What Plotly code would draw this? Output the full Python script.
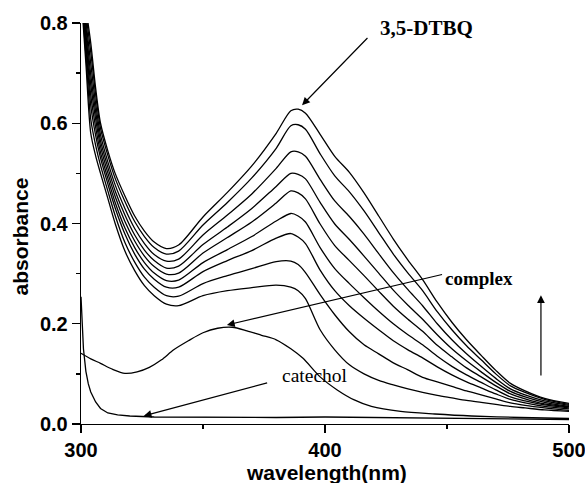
import plotly.graph_objects as go

# wavelength grid (nm) for the 3,5-DTBQ growth series
wl = [300, 302, 304, 306, 308, 311, 314, 318, 322, 326, 330, 335, 340, 350, 360, 370, 380, 386, 389, 392,
      398, 404, 410, 416, 422, 428, 434, 440, 446, 452, 458, 464, 470, 476, 482, 490, 500]

scan1 = [0.90, 0.83, 0.76, 0.67, 0.60, 0.545, 0.50, 0.455, 0.415, 0.385, 0.363, 0.350, 0.357, 0.413, 0.462, 0.515, 0.580, 0.625, 0.628, 0.620,
         0.578, 0.534, 0.502, 0.461, 0.415, 0.369, 0.327, 0.288, 0.243, 0.203, 0.168, 0.137, 0.107, 0.081, 0.066, 0.051, 0.041]
scan2 = [0.896, 0.819, 0.742, 0.657, 0.590, 0.536, 0.490, 0.444, 0.404, 0.374, 0.352, 0.339, 0.345, 0.397, 0.442, 0.491, 0.550, 0.595, 0.597, 0.588,
         0.539, 0.495, 0.463, 0.425, 0.382, 0.339, 0.301, 0.266, 0.224, 0.188, 0.156, 0.128, 0.100, 0.076, 0.063, 0.049, 0.039]
scan3 = [0.891, 0.805, 0.719, 0.639, 0.577, 0.523, 0.477, 0.430, 0.390, 0.360, 0.338, 0.325, 0.329, 0.377, 0.417, 0.459, 0.510, 0.543, 0.543, 0.534,
         0.488, 0.445, 0.414, 0.379, 0.340, 0.302, 0.268, 0.236, 0.200, 0.168, 0.140, 0.115, 0.091, 0.070, 0.058, 0.046, 0.037]
scan4 = [0.886, 0.792, 0.697, 0.623, 0.565, 0.512, 0.465, 0.417, 0.377, 0.347, 0.326, 0.311, 0.315, 0.358, 0.393, 0.430, 0.474, 0.500, 0.498, 0.489,
         0.442, 0.399, 0.368, 0.335, 0.301, 0.267, 0.237, 0.209, 0.178, 0.150, 0.126, 0.104, 0.083, 0.065, 0.054, 0.043, 0.035]
scan5 = [0.882, 0.779, 0.677, 0.608, 0.554, 0.501, 0.454, 0.404, 0.365, 0.335, 0.314, 0.299, 0.301, 0.341, 0.372, 0.403, 0.441, 0.465, 0.461, 0.449,
         0.399, 0.356, 0.326, 0.296, 0.265, 0.235, 0.209, 0.185, 0.157, 0.134, 0.112, 0.094, 0.076, 0.060, 0.050, 0.040, 0.034]
scan6 = [0.877, 0.766, 0.656, 0.592, 0.542, 0.490, 0.442, 0.391, 0.352, 0.322, 0.301, 0.286, 0.287, 0.322, 0.348, 0.374, 0.405, 0.420, 0.415, 0.403,
         0.352, 0.310, 0.280, 0.252, 0.225, 0.200, 0.178, 0.158, 0.135, 0.115, 0.098, 0.083, 0.068, 0.054, 0.046, 0.038, 0.032]
scan7 = [0.872, 0.754, 0.635, 0.576, 0.531, 0.479, 0.431, 0.379, 0.339, 0.309, 0.289, 0.273, 0.273, 0.304, 0.326, 0.346, 0.371, 0.380, 0.373, 0.360,
         0.307, 0.266, 0.236, 0.211, 0.188, 0.166, 0.148, 0.132, 0.114, 0.098, 0.084, 0.072, 0.060, 0.049, 0.042, 0.035, 0.030]
scan8 = [0.866, 0.737, 0.608, 0.556, 0.516, 0.465, 0.416, 0.362, 0.323, 0.293, 0.273, 0.256, 0.255, 0.280, 0.296, 0.310, 0.324, 0.325, 0.318, 0.302,
         0.258, 0.218, 0.184, 0.158, 0.140, 0.122, 0.108, 0.093, 0.084, 0.075, 0.066, 0.058, 0.050, 0.042, 0.037, 0.032, 0.027]
scan9 = [0.86, 0.72, 0.58, 0.535, 0.50, 0.45, 0.40, 0.345, 0.306, 0.276, 0.256, 0.239, 0.236, 0.256, 0.266, 0.272, 0.277, 0.273, 0.266, 0.250,
         0.188, 0.148, 0.118, 0.100, 0.087, 0.078, 0.070, 0.063, 0.057, 0.052, 0.047, 0.043, 0.039, 0.035, 0.032, 0.028, 0.025]

# complex spectrum
wl_complex = [300, 304, 308, 313, 318, 323, 328, 333, 338, 344, 350, 356, 362, 368, 374, 380, 386, 391, 398,
              405, 412, 419, 431, 445, 460, 480, 500]
complex_abs = [0.141, 0.130, 0.121, 0.109, 0.101, 0.104, 0.113, 0.128, 0.148, 0.166, 0.182, 0.191, 0.193, 0.186, 0.177,
               0.168, 0.150, 0.131, 0.094, 0.068, 0.048, 0.035, 0.025, 0.020, 0.016, 0.013, 0.011]

# catechol spectrum
wl_catechol = [300, 301, 302, 303, 304, 306, 308, 311, 315, 320, 330, 350, 380, 400, 420, 450, 480, 500]
catechol_abs = [0.254, 0.15, 0.105, 0.08, 0.064, 0.044, 0.031, 0.022, 0.018, 0.016, 0.014, 0.013, 0.013, 0.014,
                0.013, 0.012, 0.010, 0.009]

x_ticks = [300, 400, 500]
y_ticks = [0.0, 0.2, 0.4, 0.6, 0.8]
y_tick_labels = ["0.0", "0.2", "0.4", "0.6", "0.8"]

LW = 1.3
fig = go.Figure()
for s in [scan1, scan2, scan3, scan4, scan5, scan6, scan7, scan8, scan9]:
    fig.add_trace(go.Scatter(x=wl, y=s, mode="lines", line=dict(color="black", width=LW, shape="spline", smoothing=0.8),
                             showlegend=False, hoverinfo="skip"))
fig.add_trace(go.Scatter(x=wl_complex, y=complex_abs, mode="lines",
                         line=dict(color="black", width=LW, shape="spline", smoothing=0.8),
                         showlegend=False, hoverinfo="skip"))
fig.add_trace(go.Scatter(x=wl_catechol, y=catechol_abs, mode="lines",
                         line=dict(color="black", width=LW),
                         showlegend=False, hoverinfo="skip"))

serif = "Liberation Serif"
sans = "Liberation Sans"

def arrow(x, y, ax, ay):
    fig.add_annotation(x=x, y=y, ax=ax, ay=ay, xref="x", yref="y", axref="x", ayref="y",
                       text="", showarrow=True, arrowhead=2, arrowsize=1.3, arrowwidth=1.2,
                       arrowcolor="black", standoff=0, startstandoff=0)

arrow(390.6, 0.636, 418.0, 0.773)
arrow(359.8, 0.1975, 448.6, 0.299)
arrow(325.7, 0.016, 376.9, 0.083)
arrow(488.5, 0.257, 488.5, 0.094)

PL, PT, PW, PH = 81, 23, 488, 401   # plot-area left/top (px), width, height


def px2paper(px, py):
    return (px - PL) / PW, 1 - (py - PT) / PH


def text_at(px, py, text, family, size, weight="normal", xanchor="center", angle=0):
    x, y = px2paper(px, py)
    fig.add_annotation(x=x, y=y, xref="paper", yref="paper", text=text, showarrow=False,
                       xanchor=xanchor, yanchor="middle", textangle=angle,
                       font=dict(family=family, size=size, color="black", weight=weight))


text_at(426, 28, "3,5-DTBQ", serif, 21, "bold")
text_at(443, 278, "complex", serif, 19, "bold", xanchor="left")
text_at(280, 375, "catechol", serif, 19.5, xanchor="left")
text_at(326, 472, "wavelength(nm)", sans, 21, "bold")
text_at(20.5, 237, "absorbance", sans, 21, "bold", angle=-90)

fig.update_xaxes(range=[300, 500], tickvals=x_ticks, ticktext=[str(v) for v in x_ticks],
                 showline=True, linecolor="black", linewidth=LW, ticks="outside", ticklen=8,
                 tickwidth=LW, tickcolor="black", showgrid=False, zeroline=False,
                 ticklabeloverflow="allow", automargin=False,
                 tickfont=dict(family=sans, size=20, color="black", weight="bold"),
                 minor=dict(tickvals=[350, 450], ticks="outside", ticklen=4, tickwidth=LW, tickcolor="black"))
fig.update_yaxes(range=[0, 0.8], tickvals=y_ticks, ticktext=y_tick_labels,
                 showline=True, linecolor="black", linewidth=LW, ticks="outside", ticklen=8,
                 tickwidth=LW, tickcolor="black", showgrid=False, zeroline=False,
                 ticklabeloverflow="allow", automargin=False,
                 tickfont=dict(family=sans, size=20, color="black", weight="bold"),
                 minor=dict(tickvals=[0.1, 0.3, 0.5, 0.7], ticks="outside", ticklen=4, tickwidth=LW, tickcolor="black"))

W, H = 585, 483
fig.update_layout(width=W, height=H,
                  margin=dict(l=PL, r=W - PL - PW, t=PT, b=H - PT - PH, autoexpand=False),
                  plot_bgcolor="white", paper_bgcolor="white", hovermode=False)

fig.write_html("out.html", config={"displayModeBar": False, "staticPlot": True},
               post_script="document.body.style.margin='0';document.body.style.overflow='hidden';")
